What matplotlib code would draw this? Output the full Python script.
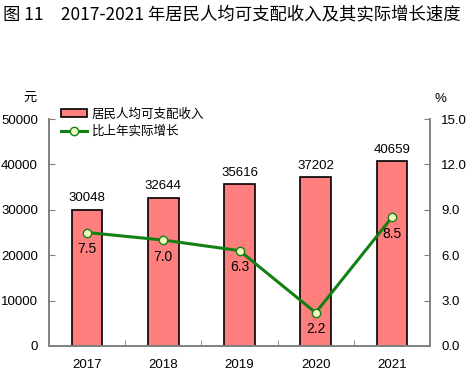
import matplotlib
matplotlib.use("Agg")
import matplotlib.pyplot as plt
from matplotlib.patches import Patch
from matplotlib.lines import Line2D

plt.rcParams['font.family'] = ['Liberation Sans', 'Noto Sans CJK SC', 'DejaVu Sans']

years = ['2017', '2018', '2019', '2020', '2021']
income = [30048, 32644, 35616, 37202, 40659]
growth = [7.5, 7.0, 6.3, 2.2, 8.5]

bar_color = '#FF7F7F'
line_color = '#128012'
marker_face = '#F4FBC0'
spine_color = '#808080'

fig = plt.figure(figsize=(4.70, 3.71), dpi=100)
ax = fig.add_axes([49 / 470, 1 - 346 / 371, 381 / 470, 227 / 371])
ax2 = ax.twinx()

x = list(range(len(years)))
ax.bar(x, income, width=0.4, color=bar_color, edgecolor='black', linewidth=1.2, zorder=2)
for xi, v in zip(x, income):
    ax.annotate(str(v), (xi, v), xytext=(0, 4), textcoords='offset points',
                ha='center', va='bottom', fontsize=9.5)

ax2.plot(x, growth, color=line_color, linewidth=2.2, marker='o', markersize=6,
         markerfacecolor=marker_face, markeredgecolor=line_color, markeredgewidth=1, zorder=3)
for xi, v in zip(x, growth):
    ax2.annotate(f'{v:.1f}', (xi, v), xytext=(0, -12), textcoords='offset points',
                 ha='center', va='center', fontsize=10)

ax.set_xlim(-0.5, 4.5)
ax.set_ylim(0, 50000)
ax2.set_ylim(0, 15)
ax.set_yticks(range(0, 50001, 10000))
ax2.set_yticks([0, 3, 6, 9, 12, 15])
ax2.set_yticklabels([f'{t:.1f}' for t in [0, 3, 6, 9, 12, 15]])
ax.set_xticks(x)
ax.set_xticklabels(years)
ax.set_xticks([0.5, 1.5, 2.5, 3.5], minor=True)

ax.tick_params(axis='x', which='major', length=0, pad=9, labelsize=9.5)
ax.tick_params(axis='x', which='minor', direction='in', length=4, color=spine_color)
ax.tick_params(axis='y', direction='in', length=4, color=spine_color, labelsize=9.5, pad=8)
ax2.tick_params(axis='y', direction='in', length=4, color=spine_color, labelsize=9.5, pad=8)

for a in (ax, ax2):
    a.spines['top'].set_visible(False)
    for s in ('left', 'right', 'bottom'):
        a.spines[s].set_color(spine_color)
        a.spines[s].set_linewidth(1.2)

handles = [Patch(facecolor=bar_color, edgecolor='black', linewidth=1.2),
           Line2D([0], [0], color=line_color, linewidth=2.2, marker='o', markersize=6,
                  markerfacecolor=marker_face, markeredgecolor=line_color)]
fig.legend(handles, ['居民人均可支配收入', '比上年实际增长'], loc='upper left',
           bbox_to_anchor=(61 / 470, 1 - 108 / 371), frameon=False, fontsize=9,
           handlelength=2.1, handleheight=0.55, handletextpad=0.35, labelspacing=0.4,
           borderpad=0, borderaxespad=0)

fig.text(30 / 470, 1 - 97 / 371, '元', ha='center', va='center', fontsize=9.5,
         family=['Noto Sans CJK SC'])
fig.text(440 / 470, 1 - 99 / 371, '%', ha='center', va='center', fontsize=9.5)

fig.text(3 / 470, 1 - 14 / 371, '图 11　2017-2021 年居民人均可支配收入及其实际增长速度',
         ha='left', va='center', fontsize=12.5, fontweight='medium',
         family=['Noto Sans CJK SC', 'DejaVu Sans'])

fig.savefig('out.png', dpi=100)
